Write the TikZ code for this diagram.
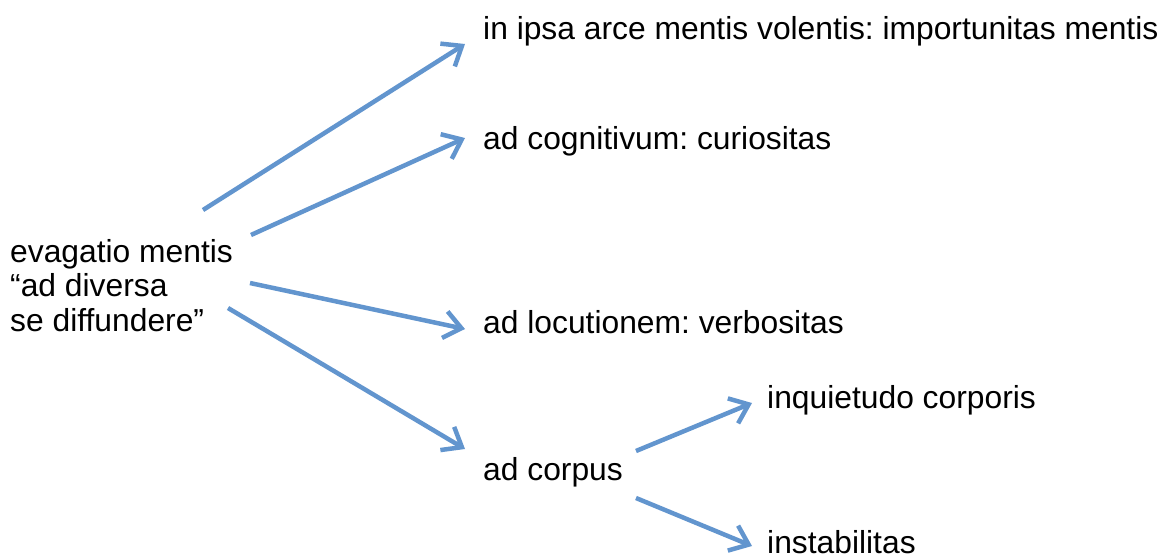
\documentclass[tikz,border=0pt]{standalone}
\usepackage{fontspec}
\setmainfont{Liberation Sans}
\frenchspacing
\usetikzlibrary{arrows.meta}
\definecolor{arrowblue}{RGB}{98,149,206}
\tikzset{
  lbl/.style={anchor=base west, inner sep=0pt, font=\fontsize{31.8}{34.7}\selectfont},
  conn/.style={draw=arrowblue, line width=4.5pt, -{Straight Barb[length=17pt,width=27pt]}},
}
\begin{document}
\begin{tikzpicture}[x=1pt,y=-1pt]
\useasboundingbox (0,0) rectangle (1169,557);
\node[lbl, align=left, anchor=north west] (src) at (10,239) {evagatio mentis\\“ad diversa\\se diffundere”};
\node[lbl] (t1) at (483,39) {in ipsa arce mentis volentis: importunitas mentis};
\node[lbl] (t2) at (483,149) {ad cognitivum: curiositas};
\node[lbl] (t3) at (483,333) {ad locutionem: verbositas};
\node[lbl] (t4) at (483,480) {ad corpus};
\node[lbl] (t5) at (767,408) {inquietudo corporis};
\node[lbl] (t6) at (767,553) {instabilitas};
\coordinate (s1) at (203,210);
\coordinate (s2) at (251,235);
\coordinate (s3) at (250,283);
\coordinate (s4) at (228,308);
\coordinate (s5) at (636,451);
\coordinate (s6) at (636,498);
\coordinate (e1) at (465,44);
\coordinate (e2) at (465,138);
\coordinate (e3) at (465,329);
\coordinate (e4) at (465,449);
\coordinate (e5) at (752,403);
\coordinate (e6) at (752,546);
\draw[conn] (s1) -- (e1);
\draw[conn] (s2) -- (e2);
\draw[conn] (s3) -- (e3);
\draw[conn] (s4) -- (e4);
\draw[conn] (s5) -- (e5);
\draw[conn] (s6) -- (e6);
\end{tikzpicture}
\end{document}
